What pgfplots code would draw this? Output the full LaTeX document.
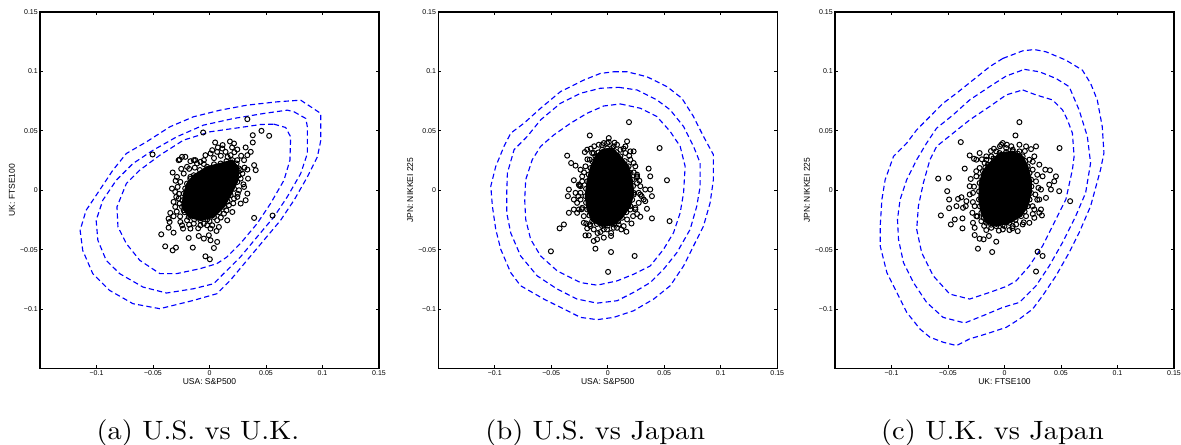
\documentclass[border=0pt]{standalone}
\usepackage{fontspec}
\usepackage{graphicx}
\usepackage{pgfplots}
\pgfplotsset{compat=1.18}
\newfontfamily\helv{Liberation Sans}

\pgfplotsset{
  mfig/.style={
    scale only axis, width=135.6pt, height=142.6pt,
    anchor=south west,
    xmin=-0.15, xmax=0.15, ymin=-0.15, ymax=0.15,
    xtick={-0.1,-0.05,0,0.05,0.1,0.15},
    ytick={-0.1,-0.05,0,0.05,0.1,0.15},
    xticklabels={−0.1,−0.05,0,0.05,0.1,0.15},
    yticklabels={−0.1,−0.05,0,0.05,0.1,0.15},
    tick align=inside, major tick length=1.2pt,
    axis line style={line width=0.5pt},
    every tick/.style={black, line width=0.35pt},
    ticklabel style={font=\helv\fontsize{2.8}{3}\selectfont},
    xticklabel style={inner sep=0.6pt},
    yticklabel style={inner sep=0.7pt},
    label style={font=\helv\fontsize{3.4}{4}\selectfont},
    xlabel style={at={(axis description cs:0.5,-0.0372)}, anchor=center},
    ylabel style={at={(axis description cs:-0.0826,0.5)}, anchor=center},
  },
  ctr/.style={blue, line width=0.45pt, dash pattern=on 2.1pt off 1.3pt, line join=round},
  pts/.style={only marks, mark=o, mark size=1pt, mark options={line width=0.4pt, black}},
  core/.style={fill=black, draw=black, line width=0.6pt},
}

\begin{document}
\begin{tikzpicture}

% ---------------- (a) U.S. vs U.K.
\begin{axis}[mfig, at={(16pt,30.6pt)}, xlabel={USA: S\&P500}, ylabel={UK: FTSE100}]
\addplot[ctr] coordinates {(0.0807,0.0758)(0.0985,0.0646)(0.0985,0.0421)(0.0955,0.0281)(0.0866,0.0112)(0.0748,-0.0084)(0.0629,-0.0253)(0.0481,-0.0421)(0.0332,-0.0590)(0.0184,-0.0758)(0.0065,-0.0871)(-0.0142,-0.0927)(-0.0439,-0.0997)(-0.0677,-0.0955)(-0.0884,-0.0843)(-0.1033,-0.0702)(-0.1122,-0.0506)(-0.1145,-0.0337)(-0.1092,-0.0169)(-0.0973,0)(-0.0855,0.0169)(-0.0736,0.0309)(-0.0558,0.0407)(-0.0350,0.0534)(-0.0142,0.0618)(0.0095,0.0674)(0.0332,0.0716)(0.0599,0.0744)} --cycle;
\addplot[ctr] coordinates {(0.0748,0.0660)(0.0852,0.0604)(0.0866,0.0534)(0.0866,0.0309)(0.0807,0.0140)(0.0688,-0.0056)(0.0570,-0.0225)(0.0421,-0.0393)(0.0273,-0.0562)(0.0125,-0.0702)(0.0036,-0.0787)(-0.0142,-0.0829)(-0.0380,-0.0865)(-0.0588,-0.0815)(-0.0795,-0.0702)(-0.0914,-0.0590)(-0.0988,-0.0421)(-0.1003,-0.0253)(-0.0944,-0.0084)(-0.0825,0.0084)(-0.0677,0.0225)(-0.0499,0.0337)(-0.0291,0.0449)(-0.0053,0.0548)(0.0214,0.0604)(0.0481,0.0646)(0.0688,0.0674)} --cycle;
\addplot[ctr] coordinates {(0.0570,0.0556)(0.0674,0.0528)(0.0718,0.0449)(0.0712,0.0253)(0.0659,0.0084)(0.0540,-0.0112)(0.0421,-0.0281)(0.0273,-0.0449)(0.0154,-0.0562)(0.0065,-0.0618)(-0.0083,-0.0660)(-0.0291,-0.0702)(-0.0439,-0.0702)(-0.0617,-0.0590)(-0.0736,-0.0449)(-0.0810,-0.0309)(-0.0819,-0.0140)(-0.0736,0.0056)(-0.0617,0.0169)(-0.0439,0.0295)(-0.0231,0.0421)(0.0006,0.0492)(0.0273,0.0528)(0.0451,0.0553)} --cycle;
\addplot[core] coordinates {(-0.0139,0.0126)(-0.0021,0.0197)(0.0098,0.0225)(0.0202,0.0253)(0.0261,0.0183)(0.0246,0.0070)(0.0187,-0.0042)(0.0128,-0.0140)(0.0039,-0.0225)(-0.0080,-0.0253)(-0.0184,-0.0225)(-0.0243,-0.0140)(-0.0228,-0.0028)(-0.0199,0.0056)} --cycle;
\addplot[pts] coordinates {
(0.0335,0.0598)(-0.0056,0.0486)(0.0460,0.0500)(0.0528,0.0458)(0.0383,0.0463)(0.0383,0.0402)(0.0181,0.0410)(-0.0504,0.0301)(0.0050,0.0402)(0.0074,0.0360)(0.0116,0.0380)(0.0246,0.0343)(0.0320,0.0360)(0.0365,0.0323)(-0.0243,0.0281)(-0.0273,0.0253)(-0.0169,0.0244)(-0.0125,0.0253)(-0.0326,0.0149)(0.0395,0.0211)(0.0335,0.0174)(0.0409,0.0169)(0.0276,0.0169)(0.0341,0.0098)(-0.0282,0.0028)(-0.0303,-0.0014)(-0.0294,-0.0056)(0.0246,-0.0056)(0.0395,-0.0233)(0.0558,-0.0213)(-0.0303,-0.0140)(-0.0347,-0.0191)(-0.0318,-0.0219)(-0.0362,-0.0239)(-0.0353,-0.0267)(-0.0362,-0.0315)(-0.0427,-0.0371)(-0.0318,-0.0357)(-0.0243,-0.0295)(-0.0234,-0.0323)(-0.0169,-0.0323)(-0.0184,-0.0402)(-0.0095,-0.0385)(-0.0050,-0.0407)(-0.0006,-0.0379)(0.0009,-0.0421)(0.0062,-0.0343)(0.0068,-0.0435)(-0.0021,-0.0295)(0.0024,-0.0295)(-0.0080,-0.0295)(-0.0392,-0.0472)(-0.0326,-0.0506)(-0.0297,-0.0483)(-0.0148,-0.0483)(0.0039,-0.0486)(-0.0036,-0.0556)(0.0003,-0.0581)
(-0.0288,0.0112)(-0.0228,0.0140)(-0.0258,0.0070)(-0.0273,-0.0070)(-0.0264,-0.0112)(-0.0228,-0.0169)(-0.0199,-0.0253)(-0.0139,-0.0281)(-0.0050,-0.0281)(0.0068,-0.0253)(0.0128,-0.0197)(0.0172,-0.0126)(0.0217,-0.0070)(0.0261,0)(0.0276,0.0098)(0.0291,0.0140)(0.0246,0.0253)(0.0187,0.0295)(0.0142,0.0323)(0.0068,0.0323)(0.0009,0.0309)(-0.0050,0.0253)(-0.0110,0.0225)(-0.0199,0.0197)(-0.0169,0.0112)
(-0.0264,0.0258)(-0.0214,0.0281)(-0.0139,0.0253)(-0.0080,0.0239)(0.0306,0.0028)(0.0335,-0.0028)
(-0.0332,0.0014)(-0.0318,-0.0098)(-0.0258,-0.0267)(0.0009,-0.0323)(0.0083,-0.0309)(0.0157,-0.0253)(0.0202,-0.0183)(0.0276,-0.0112)(0.0320,-0.0084)(0.0306,0.0253)(0.0335,0.0295)(0.0217,0.0393)(0.0113,0.0351)(0.0024,0.0337)(-0.0036,0.0295)
(-0.0139,0.0126)(-0.0021,0.0197)(0.0098,0.0225)(0.0202,0.0253)(0.0261,0.0183)(0.0246,0.0070)(0.0187,-0.0042)(0.0128,-0.0140)(0.0039,-0.0225)(-0.0080,-0.0253)(-0.0184,-0.0225)(-0.0243,-0.0140)(-0.0228,-0.0028)(-0.0199,0.0056)
(-0.0085,0.0170)(0.0040,0.0218)(0.0150,0.0245)(0.0240,0.0225)(0.0258,0.0125)(0.0218,0.0012)(0.0160,-0.0095)(0.0085,-0.0185)(-0.0020,-0.0245)(-0.0135,-0.0245)(-0.0220,-0.0185)(-0.0240,-0.0085)(-0.0215,0.0015)(-0.0170,0.0095)
(-0.0180,0.0180)(-0.0250,0.0180)(-0.0300,0.0080)(-0.0270,-0.0030)(-0.0290,-0.0180)(-0.0260,-0.0220)(-0.0180,-0.0290)(-0.0100,-0.0320)(0.0000,-0.0260)(0.0100,-0.0230)(0.0150,-0.0170)(0.0210,-0.0110)(0.0250,-0.0030)(0.0300,0.0050)(0.0310,0.0190)(0.0280,0.0290)(0.0220,0.0320)(0.0100,0.0290)(0.0040,0.0270)(-0.0050,0.0220)(-0.0130,0.0190)(0.0160,0.0280)(0.0200,0.0360)
};
\end{axis}

% ---------------- (b) U.S. vs Japan
\begin{axis}[mfig, at={(175.3pt,30.6pt)}, xlabel={USA: S\&P500}, ylabel={JPN: NIKKEI 225}]
\addplot[ctr] coordinates {(0.0053,0.0997)(0.0171,0.0997)(0.0347,0.0955)(0.0524,0.0872)(0.0656,0.0774)(0.0759,0.0620)(0.0847,0.0453)(0.0935,0.0299)(0.0935,0.0089)(0.0906,-0.0106)(0.0847,-0.0302)(0.0759,-0.0469)(0.0671,-0.0637)(0.0553,-0.0804)(0.0406,-0.0916)(0.0229,-0.1014)(0.0053,-0.1070)(-0.0094,-0.1089)(-0.0241,-0.1070)(-0.0388,-0.1000)(-0.0565,-0.0916)(-0.0771,-0.0804)(-0.0859,-0.0693)(-0.0947,-0.0497)(-0.0991,-0.0330)(-0.1021,-0.0134)(-0.1035,0.0034)(-0.0991,0.0201)(-0.0918,0.0369)(-0.0859,0.0480)(-0.0741,0.0564)(-0.0594,0.0690)(-0.0418,0.0830)(-0.0212,0.0927)(-0.0065,0.0983)} --cycle;
\addplot[ctr] coordinates {(0.0097,0.0866)(0.0259,0.0844)(0.0435,0.0760)(0.0553,0.0676)(0.0671,0.0536)(0.0759,0.0369)(0.0818,0.0229)(0.0818,0.0034)(0.0788,-0.0134)(0.0729,-0.0330)(0.0612,-0.0525)(0.0494,-0.0665)(0.0376,-0.0777)(0.0229,-0.0860)(0.0082,-0.0930)(-0.0094,-0.0950)(-0.0271,-0.0916)(-0.0447,-0.0832)(-0.0624,-0.0721)(-0.0771,-0.0553)(-0.0859,-0.0358)(-0.0894,-0.0190)(-0.0894,-0.0022)(-0.0888,0.0145)(-0.0829,0.0341)(-0.0712,0.0453)(-0.0594,0.0592)(-0.0418,0.0732)(-0.0241,0.0816)(-0.0065,0.0858)} --cycle;
\addplot[ctr] coordinates {(0.0112,0.0726)(0.0288,0.0690)(0.0435,0.0620)(0.0553,0.0494)(0.0641,0.0369)(0.0685,0.0201)(0.0671,-0.0022)(0.0641,-0.0190)(0.0582,-0.0358)(0.0494,-0.0497)(0.0376,-0.0637)(0.0229,-0.0707)(0.0082,-0.0763)(-0.0094,-0.0799)(-0.0241,-0.0777)(-0.0447,-0.0679)(-0.0594,-0.0553)(-0.0682,-0.0413)(-0.0726,-0.0246)(-0.0735,-0.0078)(-0.0726,0.0089)(-0.0668,0.0257)(-0.0594,0.0369)(-0.0476,0.0466)(-0.0329,0.0564)(-0.0182,0.0648)(-0.0035,0.0709)} --cycle;
\addplot[core] coordinates {(-0.0050,0.0341)(0.0038,0.0355)(0.0112,0.0285)(0.0185,0.0201)(0.0215,0.0089)(0.0229,-0.0022)(0.0200,-0.0134)(0.0126,-0.0232)(0.0053,-0.0288)(-0.0050,-0.0302)(-0.0138,-0.0260)(-0.0182,-0.0162)(-0.0197,-0.0050)(-0.0182,0.0075)(-0.0153,0.0187)(-0.0109,0.0285)} --cycle;
\addplot[pts] coordinates {
(0.0188,0.0573)(-0.0159,0.0461)(0.0459,0.0355)(-0.0359,0.0291)(-0.0203,0.0321)(-0.0324,0.0229)(-0.0285,0.0207)(-0.0241,0.0173)(0.0362,0.0182)(0.0376,0.0117)(0.0524,0.0084)(0.0259,0.0109)(-0.0300,0.0084)(-0.0344,0.0006)(-0.0353,-0.0050)(-0.0300,-0.0078)(0.0332,0.0006)(0.0376,0.0006)(0.0391,-0.0050)(0.0332,-0.0092)(0.0347,-0.0156)(0.0230,-0.0036)(0.0288,-0.0036)(-0.0344,-0.0190)(-0.0300,-0.0162)(-0.0271,-0.0190)(-0.0388,-0.0288)(-0.0426,-0.0321)(0.0391,-0.0237)(0.0547,-0.0260)(0.0200,-0.0162)(0.0224,-0.0218)(0.0288,-0.0223)(0.0165,-0.0349)(-0.0212,-0.0274)(-0.0182,-0.0321)(-0.0197,-0.0380)(-0.0168,-0.0380)(-0.0124,-0.0427)(-0.0094,-0.0413)(-0.0035,-0.0399)(0.0029,-0.0385)(-0.0109,-0.0492)(-0.0503,-0.0514)(0.0029,-0.0520)(0.0238,-0.0553)(0.0003,-0.0687)
(-0.0159,-0.0288)(-0.0124,-0.0330)(-0.0065,-0.0352)(-0.0006,-0.0330)(0.0053,-0.0316)(0.0097,-0.0288)
(-0.0035,0.0397)(0.0009,0.0405)(0.0053,0.0369)(0.0112,0.0341)(0.0156,0.0369)(0.0200,0.0327)(0.0229,0.0327)(-0.0124,0.0313)(-0.0079,0.0257)(-0.0159,0.0257)(0.0200,0.0257)(0.0244,0.0201)(0.0259,0.0131)
(-0.0079,0.0383)(-0.0006,0.0397)(0.0082,0.0383)(0.0156,0.0313)(0.0229,0.0229)(0.0259,0.0117)(0.0274,-0.0022)(0.0244,-0.0148)(0.0171,-0.0246)(0.0082,-0.0316)(-0.0035,-0.0330)(-0.0153,-0.0302)(-0.0212,-0.0218)(-0.0241,-0.0078)(-0.0226,0.0075)(-0.0197,0.0201)(-0.0138,0.0313)
(-0.0226,0.0117)(-0.0256,0.0047)(-0.0241,-0.0022)(-0.0271,-0.0106)(-0.0226,-0.0148)(0.0259,0.0061)(0.0274,-0.0106)(0.0244,-0.0162)
(-0.0241,0.0034)(-0.0285,-0.0022)(-0.0256,-0.0162)(0.0288,0.0034)(0.0318,-0.0078)(0.0141,-0.0302)(-0.0182,0.0341)(0.0171,0.0411)(0.0009,0.0439)
(-0.0050,0.0341)(0.0038,0.0355)(0.0112,0.0285)(0.0185,0.0201)(0.0215,0.0089)(0.0229,-0.0022)(0.0200,-0.0134)(0.0126,-0.0232)(0.0053,-0.0288)(-0.0050,-0.0302)(-0.0138,-0.0260)(-0.0182,-0.0162)(-0.0197,-0.0050)(-0.0182,0.0075)(-0.0153,0.0187)(-0.0109,0.0285)
(-0.0005,0.0352)(0.0078,0.0320)(0.0150,0.0245)(0.0202,0.0145)(0.0224,0.0035)(0.0216,-0.0080)(0.0165,-0.0185)(0.0090,-0.0262)(0.0000,-0.0298)(-0.0096,-0.0284)(-0.0162,-0.0212)(-0.0192,-0.0105)(-0.0192,0.0012)(-0.0168,0.0132)(-0.0132,0.0238)(-0.0082,0.0318)
(-0.0120,0.0370)(-0.0050,0.0380)(0.0060,0.0400)(0.0140,0.0350)(0.0190,0.0290)(0.0230,0.0150)(0.0280,0.0080)(0.0300,-0.0050)(0.0260,-0.0200)(0.0210,-0.0280)(0.0120,-0.0330)(0.0030,-0.0360)(-0.0090,-0.0360)(-0.0190,-0.0280)(-0.0230,-0.0160)(-0.0260,-0.0050)(-0.0250,0.0040)(-0.0210,0.0150)(-0.0180,0.0260)(-0.0150,0.0350)
};
\end{axis}

% ---------------- (c) U.K. vs Japan
\begin{axis}[mfig, at={(334pt,30.6pt)}, xlabel={UK: FTSE100}, ylabel={JPN: NIKKEI 225}]
\addplot[ctr] coordinates {(-0.0015,0.1109)(0.0161,0.1173)(0.0264,0.1184)(0.0367,0.1165)(0.0543,0.1095)(0.0689,0.1011)(0.0762,0.0899)(0.0821,0.0760)(0.0865,0.0536)(0.0880,0.0313)(0.0850,0.0173)(0.0762,-0.0134)(0.0660,-0.0358)(0.0572,-0.0525)(0.0455,-0.0721)(0.0337,-0.0888)(0.0249,-0.1000)(0.0132,-0.1084)(0.0015,-0.1154)(-0.0161,-0.1209)(-0.0308,-0.1251)(-0.0425,-0.1307)(-0.0543,-0.1279)(-0.0660,-0.1237)(-0.0748,-0.1168)(-0.0865,-0.1028)(-0.0953,-0.0860)(-0.1041,-0.0693)(-0.1100,-0.0469)(-0.1100,-0.0302)(-0.1085,-0.0078)(-0.1056,0.0089)(-0.0982,0.0285)(-0.0865,0.0397)(-0.0777,0.0508)(-0.0660,0.0620)(-0.0543,0.0732)(-0.0425,0.0816)(-0.0279,0.0927)(-0.0132,0.1039)} --cycle;
\addplot[ctr] coordinates {(0.0176,0.1017)(0.0308,0.0997)(0.0455,0.0941)(0.0572,0.0872)(0.0660,0.0676)(0.0733,0.0453)(0.0762,0.0229)(0.0718,-0.0022)(0.0630,-0.0218)(0.0513,-0.0441)(0.0396,-0.0637)(0.0279,-0.0804)(0.0132,-0.0944)(-0.0015,-0.0986)(-0.0191,-0.1056)(-0.0352,-0.1117)(-0.0543,-0.1070)(-0.0689,-0.0944)(-0.0806,-0.0777)(-0.0894,-0.0609)(-0.0938,-0.0413)(-0.0947,-0.0246)(-0.0924,-0.0078)(-0.0865,0.0089)(-0.0777,0.0257)(-0.0689,0.0397)(-0.0601,0.0522)(-0.0455,0.0634)(-0.0308,0.0760)(-0.0132,0.0872)(0.0015,0.0961)} --cycle;
\addplot[ctr] coordinates {(0.0161,0.0844)(0.0279,0.0802)(0.0425,0.0760)(0.0513,0.0676)(0.0557,0.0592)(0.0601,0.0480)(0.0616,0.0285)(0.0601,0.0173)(0.0543,-0.0078)(0.0425,-0.0302)(0.0337,-0.0469)(0.0220,-0.0637)(0.0103,-0.0763)(0.0015,-0.0810)(-0.0132,-0.0860)(-0.0308,-0.0916)(-0.0484,-0.0874)(-0.0630,-0.0721)(-0.0733,-0.0525)(-0.0777,-0.0330)(-0.0762,-0.0134)(-0.0718,0.0061)(-0.0660,0.0257)(-0.0601,0.0369)(-0.0455,0.0480)(-0.0308,0.0592)(-0.0132,0.0704)(0.0015,0.0802)} --cycle;
\addplot[core] coordinates {(-0.0147,0.0215)(-0.0044,0.0313)(0.0073,0.0327)(0.0161,0.0285)(0.0205,0.0201)(0.0235,0.0089)(0.0235,-0.0022)(0.0205,-0.0134)(0.0147,-0.0218)(0.0044,-0.0274)(-0.0073,-0.0302)(-0.0161,-0.0274)(-0.0205,-0.0190)(-0.0226,-0.0078)(-0.0220,0.0061)(-0.0191,0.0159)} --cycle;
\addplot[pts] coordinates {
(0.0132,0.0573)(0.0097,0.0461)(-0.0387,0.0405)(0.0487,0.0355)(-0.0308,0.0293)(-0.0270,0.0265)(-0.0352,0.0182)(-0.0587,0.0098)(-0.0493,0.0103)(-0.0507,-0.0008)(-0.0490,-0.0078)(-0.0490,-0.0151)(-0.0563,-0.0212)(-0.0475,-0.0288)(-0.0440,-0.0246)(-0.0372,-0.0237)(-0.0411,-0.0073)(-0.0381,-0.0059)(-0.0425,-0.0134)(-0.0367,-0.0148)(-0.0343,-0.0134)(-0.0372,-0.0321)(-0.0299,0.0095)(-0.0308,0.0034)(-0.0264,-0.0316)(-0.0279,-0.0274)(-0.0264,-0.0377)(-0.0220,-0.0408)(-0.0185,-0.0413)(-0.0235,-0.0492)(-0.0109,-0.0520)(-0.0073,-0.0433)(-0.0138,-0.0385)(0.0117,-0.0344)(0.0073,-0.0302)(-0.0015,-0.0330)(0.0293,-0.0517)(0.0337,-0.0553)(0.0279,-0.0684)(0.0264,-0.0232)(0.0331,-0.0212)(0.0323,-0.0162)(0.0264,-0.0162)(0.0308,-0.0078)(0.0367,-0.0064)(0.0411,0.0006)(0.0396,0.0047)(0.0440,0.0075)(0.0455,0.0117)(0.0484,-0.0008)(0.0402,0.0168)(0.0361,0.0173)(0.0308,0.0215)(0.0264,0.0285)(0.0235,0.0346)(0.0279,0.0369)(-0.0094,0.0349)(-0.0029,0.0383)(0.0021,0.0383)(0.0073,0.0341)(0.0132,0.0383)(-0.0176,0.0229)(-0.0117,0.0285)(-0.0161,0.0257)(0.0581,-0.0092)
(-0.0249,0.0117)(-0.0279,-0.0022)(-0.0264,-0.0134)(-0.0249,-0.0218)(-0.0205,-0.0260)(-0.0117,-0.0316)(0,-0.0302)(0.0103,-0.0288)(0.0191,-0.0218)(0.0249,-0.0134)(0.0273,-0.0036)(0.0279,0.0075)(0.0249,0.0173)(0.0220,0.0257)(0.0132,0.0327)(0.0015,0.0355)(-0.0073,0.0327)(-0.0161,0.0285)(-0.0220,0.0187)
(-0.0308,-0.0036)(-0.0337,-0.0092)(-0.0284,-0.0190)(-0.0161,-0.0335)(0.0044,-0.0335)(0.0161,-0.0288)(0.0220,-0.0274)(0.0308,-0.0190)(0.0323,0.0006)(0.0337,0.0117)(-0.0249,0.0257)(-0.0220,0.0313)(-0.0015,0.0397)(0.0191,0.0369)
(-0.0147,0.0215)(-0.0044,0.0313)(0.0073,0.0327)(0.0161,0.0285)(0.0205,0.0201)(0.0235,0.0089)(0.0235,-0.0022)(0.0205,-0.0134)(0.0147,-0.0218)(0.0044,-0.0274)(-0.0073,-0.0302)(-0.0161,-0.0274)(-0.0205,-0.0190)(-0.0226,-0.0078)(-0.0220,0.0061)(-0.0191,0.0159)
(-0.0098,0.0268)(0.0015,0.0322)(0.0118,0.0308)(0.0185,0.0245)(0.0222,0.0145)(0.0238,0.0032)(0.0222,-0.0078)(0.0178,-0.0178)(0.0098,-0.0248)(-0.0015,-0.0290)(-0.0118,-0.0290)(-0.0185,-0.0232)(-0.0218,-0.0135)(-0.0225,-0.0010)(-0.0208,0.0110)(-0.0170,0.0190)
(-0.0200,0.0260)(-0.0120,0.0330)(-0.0040,0.0370)(0.0060,0.0370)(0.0180,0.0330)(0.0250,0.0240)(0.0290,0.0130)(0.0300,0.0020)(0.0290,-0.0080)(0.0250,-0.0200)(0.0170,-0.0270)(0.0070,-0.0320)(-0.0050,-0.0340)(-0.0180,-0.0300)(-0.0240,-0.0220)(-0.0280,-0.0100)(-0.0270,0.0030)(-0.0250,0.0160)
};
\end{axis}

\node[anchor=base, font=\fontsize{10.6}{12}\selectfont] at (79.2pt,2.2pt) {\scalebox{1.07}[1]{(a) U.S. vs U.K.}};
\node[anchor=base, font=\fontsize{10.6}{12}\selectfont] at (238.1pt,2.2pt) {\scalebox{1.07}[1]{(b) U.S. vs Japan}};
\node[anchor=base, font=\fontsize{10.6}{12}\selectfont] at (397pt,2.2pt) {\scalebox{1.07}[1]{(c) U.K. vs Japan}};

\pgfresetboundingbox
\path[use as bounding box] (0,0) rectangle (472.4pt,178pt);
\end{tikzpicture}
\end{document}
